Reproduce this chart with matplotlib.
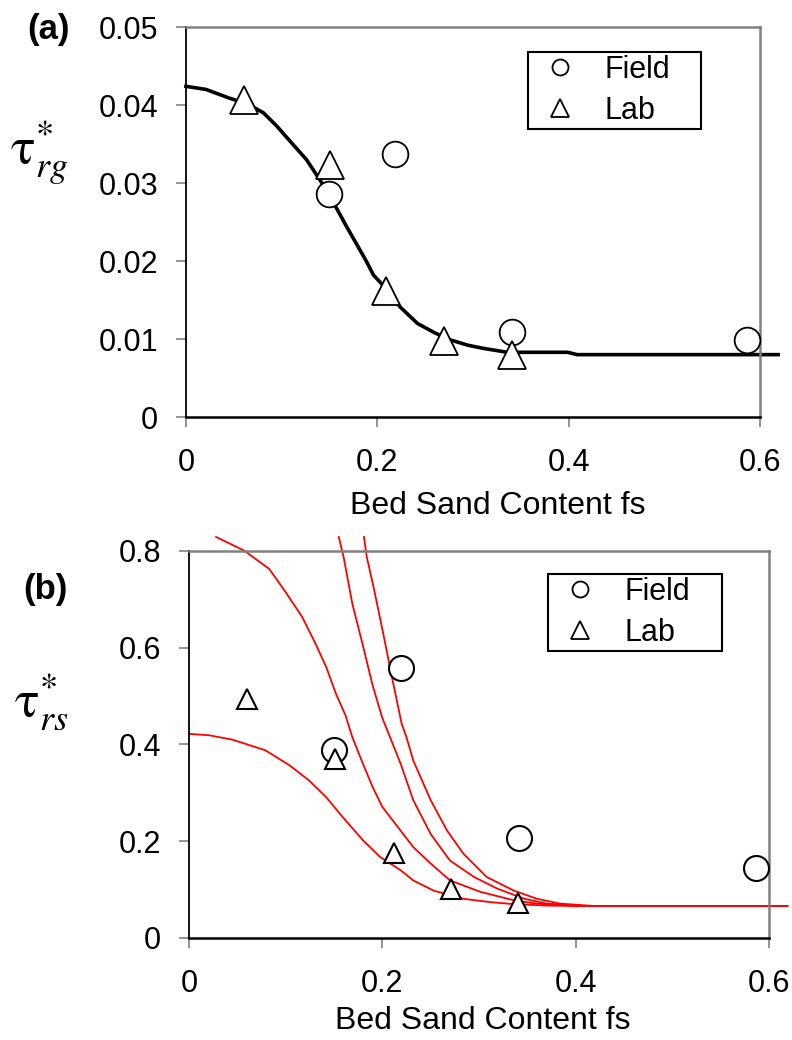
import matplotlib
matplotlib.use('Agg')
import matplotlib.pyplot as plt
from matplotlib.lines import Line2D

plt.rcParams['font.family'] = ['Liberation Sans', 'DejaVu Sans']
plt.rcParams['mathtext.fontset'] = 'stix'

# (a) gravel reference stress
fs_field = [0.150, 0.219, 0.341, 0.587]
tau_rg_field = [0.0286, 0.0337, 0.0109, 0.0099]
fs_lab = [0.061, 0.151, 0.209, 0.270, 0.341]
tau_rg_lab = [0.0406, 0.0323, 0.0162, 0.0098, 0.0080]

fs_fit_g = [0, 0.021, 0.045, 0.065, 0.081, 0.095, 0.105, 0.126, 0.147, 0.168, 0.188, 0.196,
            0.209, 0.224, 0.242, 0.260, 0.276, 0.295, 0.311, 0.336, 0.399, 0.409, 0.50, 0.619]
tau_fit_g = [0.0424, 0.0420, 0.0409, 0.0401, 0.0390, 0.0373, 0.0359, 0.0330, 0.0291, 0.0244,
             0.0201, 0.0182, 0.0165, 0.0141, 0.0120, 0.0108, 0.0099, 0.0092, 0.0088, 0.0083,
             0.0083, 0.0080, 0.0080, 0.0080]

# (b) sand reference stress
tau_rs_field = [0.388, 0.559, 0.207, 0.145]
fs_lab_b = [0.060, 0.151, 0.212, 0.271, 0.340]
tau_rs_lab = [0.495, 0.369, 0.175, 0.101, 0.072]

fs_c1 = [0, 0.021, 0.045, 0.079, 0.104, 0.124, 0.142, 0.159, 0.180, 0.198,
         0.219, 0.232, 0.253, 0.284, 0.312, 0.336, 0.370, 0.42, 0.619]
tau_c1 = [0.422, 0.419, 0.410, 0.388, 0.357, 0.326, 0.291, 0.250, 0.202, 0.167,
          0.140, 0.119, 0.098, 0.081, 0.074, 0.070, 0.067, 0.066, 0.066]

fs_c2 = [0.028, 0.057, 0.083, 0.100, 0.117, 0.131, 0.142, 0.152, 0.162, 0.169, 0.180,
         0.190, 0.200, 0.212, 0.232, 0.250, 0.270, 0.302, 0.336, 0.360, 0.40, 0.619]
tau_c2 = [0.829, 0.801, 0.763, 0.715, 0.664, 0.608, 0.560, 0.505, 0.460, 0.415, 0.360,
          0.312, 0.271, 0.240, 0.188, 0.154, 0.119, 0.095, 0.078, 0.071, 0.066, 0.066]

fs_c3 = [0.155, 0.160, 0.169, 0.180, 0.190, 0.200, 0.208, 0.219, 0.232, 0.250,
         0.270, 0.295, 0.319, 0.347, 0.370, 0.41, 0.619]
tau_c3 = [0.829, 0.787, 0.691, 0.604, 0.522, 0.455, 0.415, 0.360, 0.285, 0.215,
          0.160, 0.126, 0.102, 0.081, 0.071, 0.066, 0.066]

fs_c4 = [0.181, 0.184, 0.191, 0.201, 0.210, 0.220, 0.225, 0.232, 0.250, 0.267,
         0.284, 0.308, 0.336, 0.360, 0.384, 0.42, 0.619]
tau_c4 = [0.829, 0.787, 0.725, 0.629, 0.539, 0.443, 0.415, 0.367, 0.285, 0.222,
          0.174, 0.126, 0.098, 0.081, 0.071, 0.066, 0.066]

x_ticks = [0, 0.2, 0.4, 0.6]
x_ticklabels = ['0', '0.2', '0.4', '0.6']
y_ticks_a = [0, 0.01, 0.02, 0.03, 0.04, 0.05]
y_ticklabels_a = ['0', '0.01', '0.02', '0.03', '0.04', '0.05']
y_ticks_b = [0, 0.2, 0.4, 0.6, 0.8]
y_ticklabels_b = ['0', '0.2', '0.4', '0.6', '0.8']

fig = plt.figure(figsize=(7.92, 10.4), dpi=100)
ax1 = fig.add_axes([0.2348, 0.5990, 0.7247, 0.3750])
ax2 = fig.add_axes([0.2386, 0.0981, 0.7323, 0.3721])


def style_axes(ax, yticks, yticklabels, ylim):
    ax.set_xlim(0, 0.6)
    ax.set_ylim(*ylim)
    ax.set_xticks(x_ticks)
    ax.set_xticklabels(x_ticklabels)
    ax.set_yticks(yticks)
    ax.set_yticklabels(yticklabels)
    for side in ['top', 'right']:
        ax.spines[side].set_color('#808080')
        ax.spines[side].set_linewidth(1.8)
    ax.spines['left'].set_color('black')
    ax.spines['left'].set_linewidth(1.3)
    ax.spines['bottom'].set_color('black')
    ax.spines['bottom'].set_linewidth(1.8)
    ax.tick_params(direction='out', length=7, width=1.2, color='#808080', labelsize=22)
    ax.tick_params(axis='x', pad=15)
    ax.tick_params(axis='y', pad=13)


def add_legend(ax, anchor):
    handles = [Line2D([0], [0], marker='o', ls='', mfc='white', mec='black', ms=11.5, mew=1.3),
               Line2D([0], [0], marker='^', ls='', mfc='white', mec='black', ms=13, mew=1.3)]
    leg = ax.legend(handles, ['Field', 'Lab'], loc='upper left', bbox_to_anchor=anchor,
                    mode='expand', borderaxespad=0, fontsize=22, fancybox=False,
                    framealpha=1, borderpad=0.1, labelspacing=0.35,
                    handlelength=1.9, handletextpad=0.5)
    leg.get_frame().set_edgecolor('black')
    leg.get_frame().set_linewidth(1.5)


# panel (a)
ax1.plot(fs_fit_g, tau_fit_g, color='black', lw=2.6, clip_on=False, zorder=2)
ax1.plot(fs_field, tau_rg_field, 'o', ms=18.5, mfc='white', mec='black', mew=1.3,
         clip_on=False, zorder=3)
ax1.plot(fs_lab, tau_rg_lab, '^', ms=19.5, mfc='white', mec='black', mew=1.3,
         clip_on=False, zorder=3)
style_axes(ax1, y_ticks_a, y_ticklabels_a, (0, 0.05))
add_legend(ax1, (0.596, 0.736, 0.301, 0.2))
ax1.set_xlabel('Bed Sand Content fs', fontsize=23, va='center')
ax1.xaxis.set_label_coords(0.544, -0.228)
ax1.set_ylabel(r'$\mathrm{τ}^{\mathrm{*}}_{rg}$', rotation=0, fontsize=37, ha='center', va='center')
ax1.yaxis.set_label_coords(-0.256, 0.679)

# panel (b)
for fs_c, tau_c in [(fs_c1, tau_c1), (fs_c2, tau_c2), (fs_c3, tau_c3), (fs_c4, tau_c4)]:
    ax2.plot(fs_c, tau_c, color='#ff0000', lw=1.3, clip_on=False, zorder=2)
ax2.plot(fs_field, tau_rs_field, 'o', ms=18, mfc='white', mec='black', mew=1.5,
         clip_on=False, zorder=3)
ax2.plot(fs_lab_b, tau_rs_lab, '^', ms=14, mfc='white', mec='black', mew=1.5,
         clip_on=False, zorder=3)
style_axes(ax2, y_ticks_b, y_ticklabels_b, (0, 0.8))
add_legend(ax2, (0.619, 0.741, 0.300, 0.2))
ax2.set_xlabel('Bed Sand Content fs', fontsize=23, va='center')
ax2.xaxis.set_label_coords(0.506, -0.215)
ax2.set_ylabel(r'$\mathrm{τ}^{\mathrm{*}}_{rs}$', rotation=0, fontsize=37, ha='center', va='center')
ax2.yaxis.set_label_coords(-0.255, 0.610)

fig.text(27 / 792, 1 - 29 / 1040, '(a)', fontsize=25, fontweight='bold', ha='left', va='center')
fig.text(23 / 792, 1 - 590 / 1040, '(b)', fontsize=25, fontweight='bold', ha='left', va='center')

fig.savefig('out.png', dpi=100)
